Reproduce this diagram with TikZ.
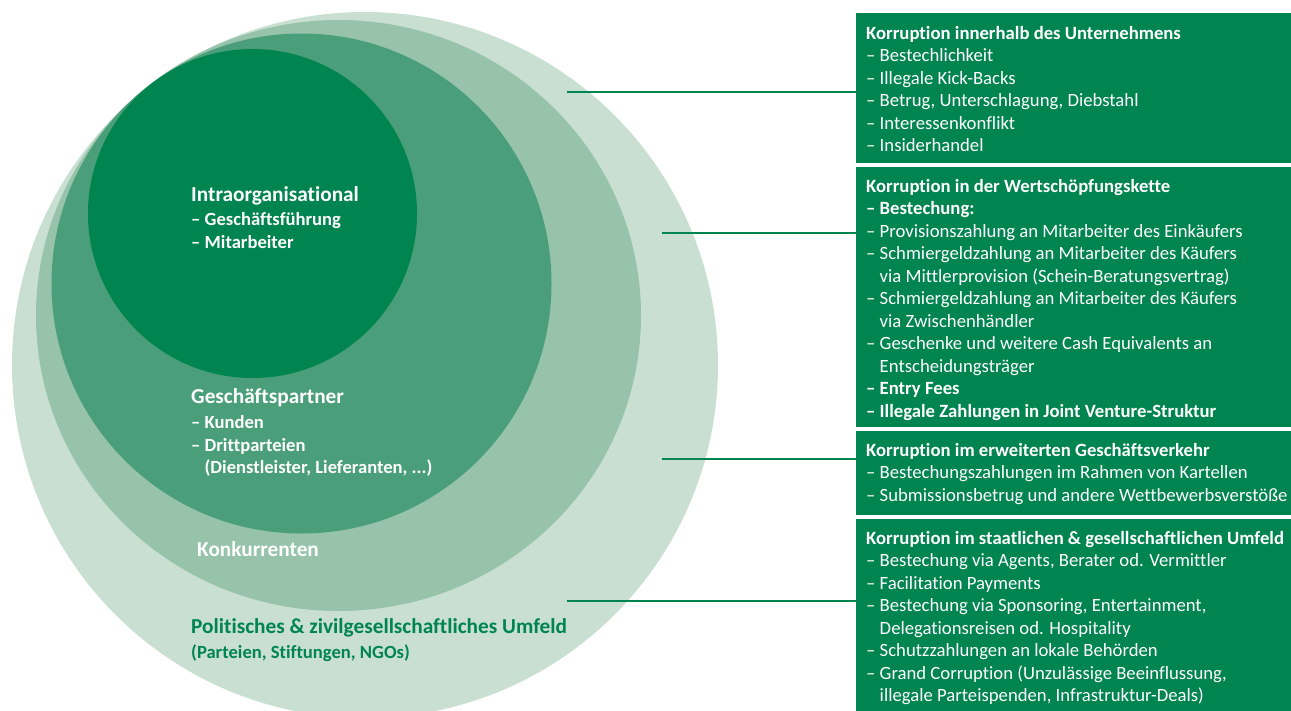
\documentclass[tikz,border=0pt]{standalone}
\usepackage{fontspec}
\setmainfont{Carlito}[Ligatures=NoCommon]
\usetikzlibrary{positioning}
\definecolor{kgreen}{RGB}{0,132,80}
\definecolor{kmid}{RGB}{74,159,122}
\definecolor{klight}{RGB}{150,195,170}
\definecolor{kpale}{RGB}{200,223,210}
\newcommand{\kindent}{\phantom{– }}
\tikzset{
  panel/.style={fill=kgreen, anchor=north west, inner sep=0pt, minimum width=436, minimum height=#1},
  paneltext/.style={anchor=north west, inner sep=0pt, text=white, align=left, font=\fontsize{18.7}{22.5}\selectfont},
  circhead/.style={anchor=west, inner sep=0pt, text=white, font=\fontsize{21.3}{25}\selectfont\bfseries},
  circitem/.style={anchor=north west, inner sep=0pt, text=white, align=left, font=\fontsize{18.6}{22.5}\selectfont\bfseries},
  link/.style={kgreen, line width=1.5pt}
}
\begin{document}
\begin{tikzpicture}[x=1pt,y=-1pt]
\useasboundingbox (0,0) rectangle (1291,710);
\clip (0,0) rectangle (1291,710);

\fill[kpale] (365,365) circle[radius=353];
\fill[klight] (338.5,315.5) ellipse[x radius=302.5, y radius=295.5];
\fill[kmid] (301.5,283.5) circle[radius=250];
\fill[kgreen] (252.5,213.5) circle[radius=164.5];

\node[circhead] (intra) at (191,196) {Intraorganisational};
\node[circitem, below=7pt of intra.south west, anchor=north west] (intrai) {– Geschäftsführung\\– Mitarbeiter};
\node[circhead] (partner) at (191,398) {Geschäftspartner};
\node[circitem, below=8pt of partner.south west, anchor=north west] (partneri) {– Kunden\\– Drittparteien\\\kindent(Dienstleister, Lieferanten, ...)};
\node[circhead] (konk) at (197,549) {Konkurrenten};
\node[circhead, text=kgreen] (umfeld) at (191,628) {Politisches \& zivilgesellschaftliches Umfeld};
\node[circitem, text=kgreen, below=7pt of umfeld.south west, anchor=north west] (umfeldi) {(Parteien, Stiftungen, NGOs)};

\node[panel=150] (kb1) at (856,13) {};
\node[panel=260] (kb2) at (856,167) {};
\node[panel=84] (kb3) at (856,431) {};
\node[panel=200] (kb4) at (856,519) {};

\node[paneltext] (kt1) at ([xshift=10pt,yshift=-13pt]kb1.north west) {\textbf{Korruption innerhalb des Unternehmens}\\
– Bestechlichkeit\\– Illegale Kick-Backs\\– Betrug, Unterschlagung, Diebstahl\\– Interessenkonflikt\\– Insiderhandel};
\node[paneltext] (kt2) at ([xshift=10pt,yshift=-12pt]kb2.north west) {\textbf{Korruption in der Wertschöpfungskette}\\
\textbf{– Bestechung:}\\
– Provisionszahlung an Mitarbeiter des Einkäufers\\
– Schmiergeldzahlung an Mitarbeiter des Käufers\\
\kindent via Mittlerprovision (Schein-Beratungsvertrag)\\
– Schmiergeldzahlung an Mitarbeiter des Käufers\\
\kindent via Zwischenhändler\\
– Geschenke und weitere Cash Equivalents an\\
\kindent Entscheidungsträger\\
\textbf{– Entry Fees}\\
\textbf{– Illegale Zahlungen in Joint Venture-Struktur}};
\node[paneltext] (kt3) at ([xshift=10pt,yshift=-12pt]kb3.north west) {\textbf{Korruption im erweiterten Geschäftsverkehr}\\
– Bestechungszahlungen im Rahmen von Kartellen\\
– Submissionsbetrug und andere Wettbewerbsverstöße};
\node[paneltext] (kt4) at ([xshift=10pt,yshift=-12pt]kb4.north west) {\textbf{Korruption im staatlichen \& gesellschaftlichen Umfeld}\\
– Bestechung via Agents, Berater od. Vermittler\\
– Facilitation Payments\\
– Bestechung via Sponsoring, Entertainment,\\
\kindent Delegationsreisen od. Hospitality\\
– Schutzzahlungen an lokale Behörden\\
– Grand Corruption (Unzulässige Beeinflussung,\\
\kindent illegale Parteispenden, Infrastruktur-Deals)};

\coordinate (l1) at (567,92);
\coordinate (l2) at (662,233);
\coordinate (l3) at (662,459);
\coordinate (l4) at (567,601);
\draw[link] (l1) -- (l1 -| kb1.west);
\draw[link] (l2) -- (l2 -| kb2.west);
\draw[link] (l3) -- (l3 -| kb3.west);
\draw[link] (l4) -- (l4 -| kb4.west);
\end{tikzpicture}
\end{document}
